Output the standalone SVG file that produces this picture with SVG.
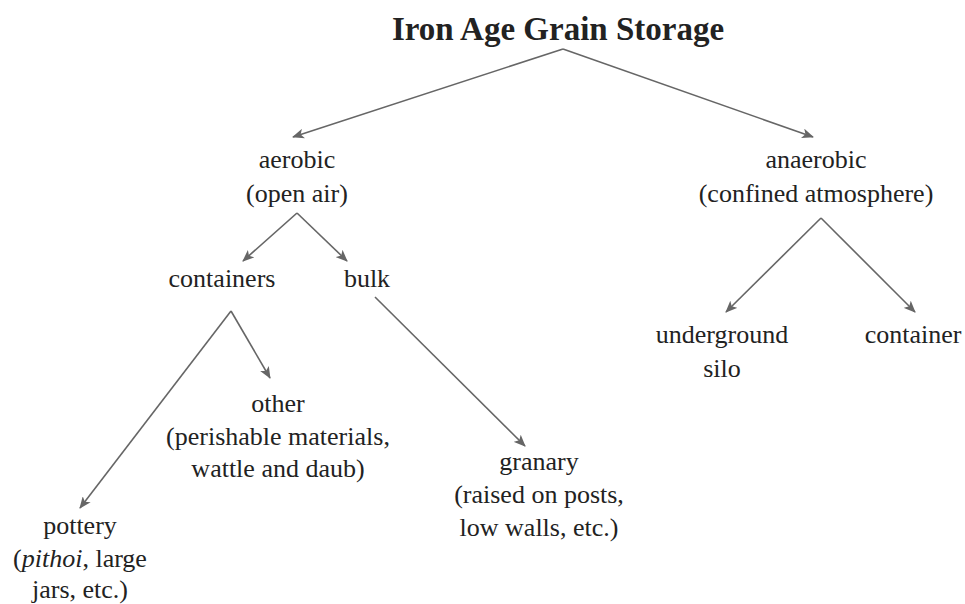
<svg xmlns="http://www.w3.org/2000/svg" width="965" height="604" viewBox="0 0 965 604">
<defs>
<marker id="ah" viewBox="0 0 12 10" refX="11" refY="5" markerWidth="12" markerHeight="10" markerUnits="userSpaceOnUse" orient="auto">
<path d="M0,0 L12,5 L0,10 L3,5 Z" fill="#666"/>
</marker>
<style>
text{font-family:'Liberation Serif',serif;fill:#222;text-anchor:middle}
.t{font-size:26px}
.title{font-size:33px;font-weight:bold}
.c{stroke:#666;stroke-width:1.6;fill:none;marker-end:url(#ah)}
</style>
</defs>
<rect width="965" height="604" fill="#fff"/>
<g id="title" font-family="Liberation Serif"><text class="title" x="558" y="40">Iron Age Grain Storage</text></g>
<g id="aerobic" font-family="Liberation Serif"><text class="t" x="297" y="168">aerobic</text><text class="t" x="297" y="202">(open air)</text></g>
<g id="anaerobic" font-family="Liberation Serif"><text class="t" x="816" y="168">anaerobic</text><text class="t" x="816" y="202">(confined atmosphere)</text></g>
<g id="containers" font-family="Liberation Serif"><text class="t" x="222" y="287">containers</text></g>
<g id="bulk" font-family="Liberation Serif"><text class="t" x="367" y="287">bulk</text></g>
<g id="other" font-family="Liberation Serif"><text class="t" x="278" y="412">other</text><text class="t" x="278" y="445">(perishable materials,</text><text class="t" x="278" y="477">wattle and daub)</text></g>
<g id="pottery" font-family="Liberation Serif"><text class="t" x="80" y="534">pottery</text><text class="t" x="80" y="567">(<tspan font-style="italic">pithoi</tspan>, large</text><text class="t" x="80" y="598">jars, etc.)</text></g>
<g id="granary" font-family="Liberation Serif"><text class="t" x="539" y="470">granary</text><text class="t" x="539" y="503">(raised on posts,</text><text class="t" x="539" y="536">low walls, etc.)</text></g>
<g id="underground" font-family="Liberation Serif"><text class="t" x="722" y="343">underground</text><text class="t" x="722" y="377">silo</text></g>
<g id="container" font-family="Liberation Serif"><text class="t" x="913" y="343">container</text></g>
<g id="connectors">
<line class="c" x1="563" y1="49" x2="293" y2="137"/>
<line class="c" x1="563" y1="49" x2="813" y2="137"/>
<line class="c" x1="297" y1="213" x2="243" y2="261"/>
<line class="c" x1="297" y1="213" x2="347" y2="261"/>
<line class="c" x1="231" y1="311" x2="80" y2="508"/>
<line class="c" x1="231" y1="311" x2="270" y2="378"/>
<line class="c" x1="375" y1="297" x2="525" y2="446"/>
<line class="c" x1="821" y1="218" x2="726" y2="312"/>
<line class="c" x1="821" y1="218" x2="915" y2="312"/>
</g>
</svg>
